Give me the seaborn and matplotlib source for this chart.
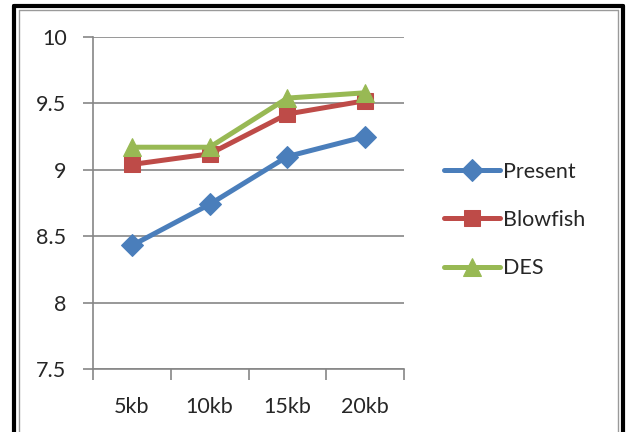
import matplotlib
matplotlib.use("Agg")
import matplotlib.pyplot as plt
from matplotlib.lines import Line2D
import seaborn as sns
import pandas as pd

categories = ["5kb", "10kb", "15kb", "20kb"]
present = [8.43, 8.74, 9.10, 9.25]
blowfish = [9.04, 9.12, 9.42, 9.52]
des = [9.17, 9.17, 9.54, 9.58]
series_names = ["Present", "Blowfish", "DES"]
y_ticks = [7.5, 8, 8.5, 9, 9.5, 10]

sns.set_theme(style="white")
plt.rcParams["font.family"] = ["Lato", "DejaVu Sans"]

colors = {"Present": "#4A7EBB", "Blowfish": "#BE4B48", "DES": "#98B954"}
markers = {"Present": "D", "Blowfish": "s", "DES": "^"}
msizes = {"Present": 11.5, "Blowfish": 12, "DES": 13}

df = pd.DataFrame({
    "size": categories * 3,
    "value": present + blowfish + des,
    "series": [s for s in series_names for _ in categories],
})

fig = plt.figure(figsize=(6.3, 4.32), dpi=100)
fig.patch.set_facecolor("white")
ax = fig.add_axes([93 / 630, 63 / 432, 311 / 630, 332 / 432])

for name in series_names:
    sub = df[df["series"] == name]
    sns.lineplot(data=sub, x="size", y="value", ax=ax, color=colors[name],
                 marker=markers[name], markersize=msizes[name],
                 markeredgecolor=colors[name], linewidth=3.6, label=name,
                 sort=False)

ax.set_xlim(-0.5, 3.5)
ax.set_ylim(7.5, 10)
ax.set_yticks(y_ticks)
ax.set_yticklabels([f"{v:g}" for v in y_ticks], fontsize=15.5)
ax.set_xticks([-0.5, 0.5, 1.5, 2.5, 3.5], minor=False)
ax.set_xticklabels([])
ax.set_xticks(range(len(categories)), minor=True)
ax.set_xticklabels(categories, minor=True, fontsize=15.5)
ax.tick_params(axis="x", which="major", direction="out", length=8, width=1.2,
               color="#868686", bottom=True)
ax.tick_params(axis="x", which="minor", length=0, pad=20)
ax.tick_params(axis="y", direction="out", length=7, width=1.2,
               color="#868686", left=True, pad=12)
ax.set_xlabel("")
ax.set_ylabel("")
ax.grid(axis="y", color="#868686", linewidth=1.2)
ax.set_axisbelow(True)
for side in ["top", "right"]:
    ax.spines[side].set_visible(False)
for side in ["left", "bottom"]:
    ax.spines[side].set_color("#868686")
    ax.spines[side].set_linewidth(1.2)

ax.legend(loc="center left", bbox_to_anchor=(1.13, 0.449), frameon=False,
          fontsize=15.5, handlelength=2.6, labelspacing=1.32, handletextpad=0.1,
          borderpad=0, borderaxespad=0)

# chart frame: outer black border and inner gray border
for (xs, ys, c, lw) in [
    ([14 / 630, 14 / 630], [0, 426 / 432], "black", 3),
    ([14 / 630, 623 / 630], [426 / 432, 426 / 432], "black", 3),
    ([623 / 630, 623 / 630], [426 / 432, 0], "black", 3),
    ([19 / 630, 19 / 630], [0, 422 / 432], "#9a9a9a", 1),
    ([19 / 630, 618 / 630], [422 / 432, 422 / 432], "#9a9a9a", 1),
    ([618 / 630, 618 / 630], [422 / 432, 0], "#9a9a9a", 1),
]:
    fig.add_artist(Line2D(xs, ys, color=c, linewidth=lw, transform=fig.transFigure))

fig.savefig("out.png", dpi=100)
